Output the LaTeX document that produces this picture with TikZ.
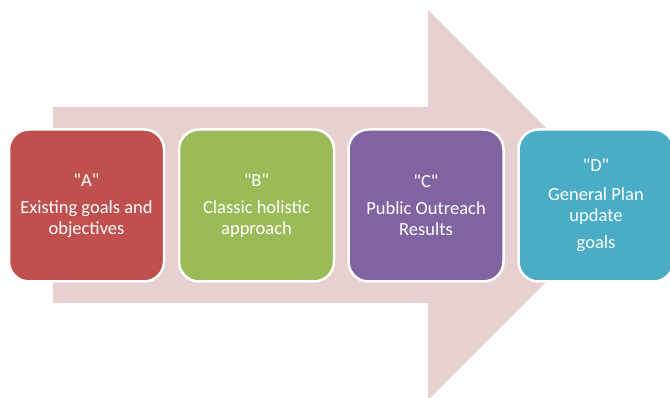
\documentclass[tikz,border=0pt]{standalone}
\usepackage{fontspec}
\newfontfamily\stagefont{Carlito}
\definecolor{arrowpink}{RGB}{231,208,208}
\definecolor{stageA}{RGB}{192,80,77}
\definecolor{stageB}{RGB}{155,187,89}
\definecolor{stageC}{RGB}{128,100,162}
\definecolor{stageD}{RGB}{75,172,198}
\begin{document}
\begin{tikzpicture}[x=1pt, y=-1pt,
    stage/.style={draw=white, line width=2.5pt, rounded corners=20pt,
      minimum width=155pt, minimum height=152pt, inner sep=0pt,
      text=white, align=center, font=\stagefont\fontsize{18.5}{21}\selectfont}]
        \clip (0,0) rectangle (670,398);
        % big arrow behind the stages
        \fill[arrowpink] (53,107) -- (428,107) -- (428,10) -- (623,205)
            -- (428,400) -- (428,303) -- (53,303) -- cycle;
        \node[stage, fill=stageA] (a) at (86.5,205.5) {"A"\\[6pt] Existing goals and\\ objectives};
        \node[stage, fill=stageB] (b) at (256.5,205.5) {"B"\\[6pt] Classic holistic\\ approach};
        \node[stage, fill=stageC] (c) at (426,205.5) {"C"\\[6pt] Public Outreach\\ Results};
        \node[stage, fill=stageD] (d) at (596,205.5) {"D"\\[8pt] General Plan\\ update\\[6pt] goals};
    \end{tikzpicture}
\end{document}
